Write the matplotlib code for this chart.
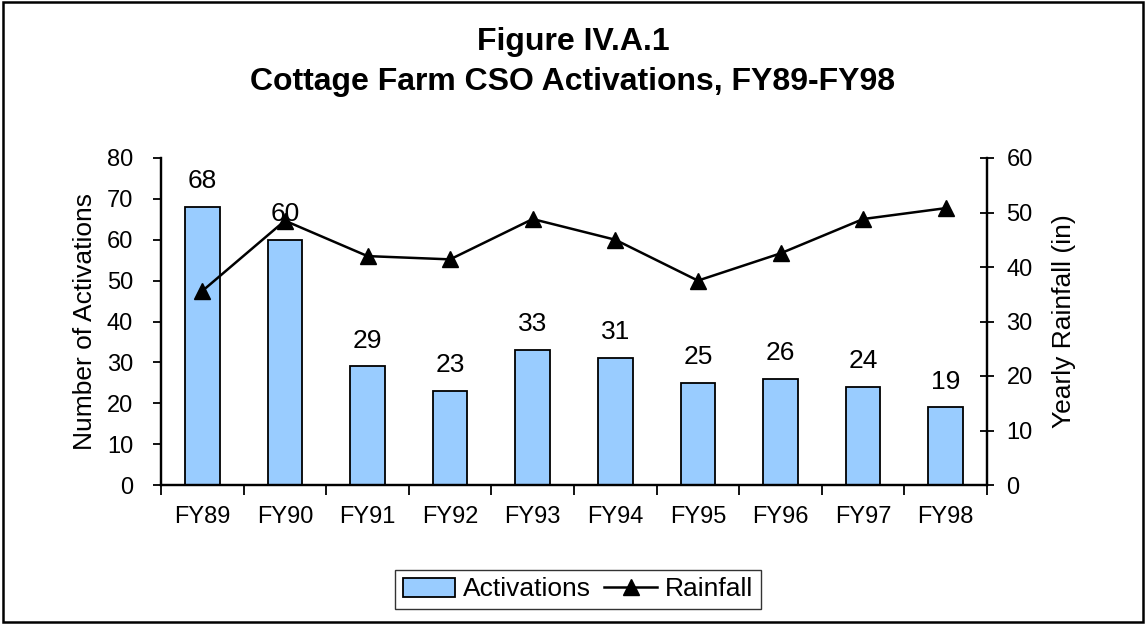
import matplotlib
matplotlib.use("Agg")
import matplotlib.pyplot as plt
import numpy as np
from matplotlib.patches import Rectangle

plt.rcParams['font.family'] = ['Liberation Sans', 'DejaVu Sans']

# Fiscal years and yearly values
years = ["FY89", "FY90", "FY91", "FY92", "FY93", "FY94", "FY95", "FY96", "FY97", "FY98"]
activations = [68, 60, 29, 23, 33, 31, 25, 26, 24, 19]
rainfall = [35.6, 48.5, 42.0, 41.4, 48.8, 45.0, 37.5, 42.5, 48.8, 50.8]

fig = plt.figure(figsize=(11.46, 6.24), dpi=100)
# outer frame round the whole chart
fig.add_artist(Rectangle((0.003, 0.004), 0.994, 0.992, transform=fig.transFigure,
                         fill=False, edgecolor='black', linewidth=1.8))

ax = fig.add_axes([161 / 1146, 1 - 485 / 624, (987 - 161) / 1146, (485 - 158) / 624])
x = np.arange(len(years))
bars = ax.bar(x, activations, width=0.42, color='#99CCFF', edgecolor='black',
              linewidth=1.3, label='Activations', zorder=2)
for xi, v in zip(x, activations):
    ax.text(xi, v + 4.6, str(v), ha='center', va='baseline', fontsize=19)

ax.set_xlim(-0.5, len(years) - 0.5)
ax.set_ylim(0, 80)
ax.set_yticks(range(0, 81, 10))
ax.set_xticks(x)
ax.set_xticklabels(years)
ax.set_ylabel("Number of Activations", fontsize=19, labelpad=7)
ax.tick_params(axis='y', labelsize=17, direction='out', length=6, width=1.3, pad=14)
ax.tick_params(axis='x', labelsize=17, direction='in', length=3, width=1.3, pad=15)
# category separators on the x axis
ax.set_xticks(np.arange(-0.5, len(years)), minor=True)
ax.tick_params(axis='x', which='minor', length=7, width=1.3, direction='out')
for side in ['left', 'bottom', 'right']:
    ax.spines[side].set_linewidth(1.6)
ax.spines['top'].set_visible(False)

ax2 = ax.twinx()
line, = ax2.plot(x, rainfall, color='black', linewidth=1.8, marker='^',
                 markersize=12, label='Rainfall', zorder=3)
ax2.set_ylim(0, 60)
ax2.set_yticks(range(0, 61, 10))
ax2.set_ylabel("Yearly Rainfall (in)", fontsize=19, labelpad=14)
ax2.tick_params(axis='y', labelsize=17, direction='inout', length=10, width=1.3, pad=9)
for side in ['left', 'bottom', 'right']:
    ax2.spines[side].set_linewidth(1.6)
ax2.spines['top'].set_visible(False)

fig.text(0.5, 1 - 42 / 624, "Figure IV.A.1", ha='center', va='center',
         fontsize=23, fontweight='bold')
fig.text(0.5, 1 - 82 / 624, "Cottage Farm CSO Activations, FY89-FY98", ha='center',
         va='center', fontsize=23, fontweight='bold')

leg = fig.legend([bars, line], ['Activations', 'Rainfall'], loc='center',
                 bbox_to_anchor=(578 / 1146, 1 - 589.5 / 624), ncol=2, fontsize=19,
                 frameon=True, fancybox=False, edgecolor='black', handlelength=2.0,
                 handletextpad=0.3, columnspacing=0.5, borderpad=0.3)
leg.get_frame().set_linewidth(1.0)

fig.savefig("out.png", dpi=100)
